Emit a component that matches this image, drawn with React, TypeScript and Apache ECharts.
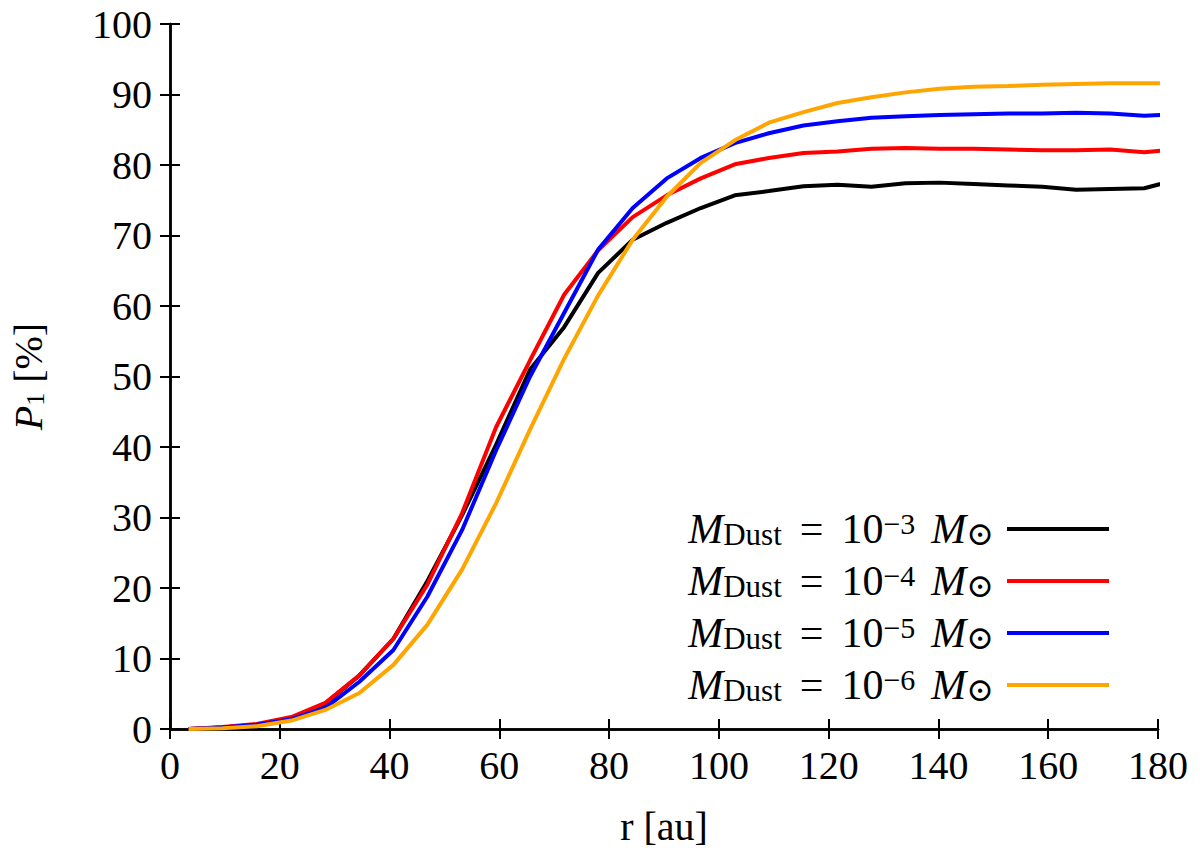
import { useEffect, useRef } from 'react';
import * as echarts from 'echarts';

// radius grid (au)
const radii = [
  3.4, 9.6, 15.8, 22.1, 28.3, 34.5, 40.7, 46.9, 53.2, 59.4,
  65.6, 71.8, 78.0, 84.3, 90.5, 96.7, 102.9, 109.1, 115.4, 121.6,
  127.8, 134.0, 140.2, 146.4, 152.7, 158.9, 165.1, 171.3, 177.5, 183.8,
];

// P1 [%] for each dust mass
const p1Dust3 = [
  0, 0.2, 0.6, 1.5, 3.6, 7.6, 12.8, 21.0, 30.3, 40.3,
  51.0, 57.0, 64.7, 69.4, 71.8, 73.9, 75.7, 76.3, 77.0, 77.2,
  76.9, 77.4, 77.5, 77.3, 77.1, 76.9, 76.5, 76.6, 76.7, 78.0,
];
const p1Dust4 = [
  0, 0.3, 0.7, 1.7, 3.7, 7.6, 12.8, 20.5, 30.6, 42.8,
  52.3, 61.6, 67.9, 72.6, 75.7, 78.1, 80.1, 81.0, 81.7, 81.9,
  82.3, 82.4, 82.3, 82.3, 82.2, 82.1, 82.1, 82.2, 81.8, 82.3,
];
const p1Dust5 = [
  0, 0.2, 0.6, 1.4, 3.0, 6.7, 11.2, 18.8, 28.2, 39.5,
  50.0, 59.0, 68.0, 73.9, 78.1, 81.0, 83.1, 84.5, 85.6, 86.2,
  86.7, 86.9, 87.1, 87.2, 87.3, 87.3, 87.4, 87.3, 87.0, 87.2,
];
const p1Dust6 = [
  0, 0.1, 0.4, 1.2, 2.7, 5.1, 9.1, 14.8, 22.6, 32.0,
  42.5, 52.5, 61.5, 69.4, 75.5, 80.3, 83.5, 86.0, 87.5, 88.8,
  89.6, 90.3, 90.8, 91.1, 91.2, 91.4, 91.5, 91.6, 91.6, 91.6,
];

const seriesNames = ['1e-3', '1e-4', '1e-5', '1e-6'];
const exponents = ['−3', '−4', '−5', '−6'];
const seriesColors = ['#000000', '#ff0000', '#0000ff', '#ffa500'];
const seriesValues = [p1Dust3, p1Dust4, p1Dust5, p1Dust6];

const FONT = '"Liberation Serif", "DejaVu Serif", serif';

export default function App() {
  const chartRef = useRef<HTMLDivElement>(null);

  useEffect(() => {
    if (!chartRef.current) return;
    const chart = echarts.init(chartRef.current, undefined, { renderer: 'svg' });

    const axisLine = { show: true, lineStyle: { color: '#000', width: 2.5 } };
    const axisTick = { show: true, inside: true, length: 10, lineStyle: { color: '#000', width: 2 } };
    const base = { fontFamily: FONT, color: '#000' };

    const option: echarts.EChartsOption = {
      animation: false,
      backgroundColor: '#fff',
      textStyle: { fontFamily: FONT },
      grid: { left: 167, right: 42, top: 24, bottom: 123 },
      legend: {
        orient: 'vertical',
        right: 86,
        top: 503,
        align: 'right',
        icon: 'rect',
        itemWidth: 102,
        itemHeight: 4,
        itemGap: 10,
        data: seriesNames,
        formatter: (name: string) => {
          const i = seriesNames.indexOf(name);
          return `{m|M}{sub|Dust}{eq|=}{t|10}{sup|${exponents[i]}}{m2|M}{sun|⊙}`;
        },
        textStyle: {
          ...base,
          fontSize: 42,
          rich: {
            m: { ...base, fontSize: 42, fontStyle: 'italic', verticalAlign: 'middle' },
            m2: { ...base, fontSize: 42, fontStyle: 'italic', verticalAlign: 'middle', padding: [0, 0, 0, 16] },
            eq: { ...base, fontSize: 42, verticalAlign: 'middle', padding: [0, 18, 0, 18] },
            t: { ...base, fontSize: 42, verticalAlign: 'middle' },
            sub: { ...base, fontSize: 31, verticalAlign: 'bottom', lineHeight: 16 },
            sun: { ...base, fontSize: 33, verticalAlign: 'bottom', lineHeight: 16, padding: [0, 8, 0, 0] },
            sup: { ...base, fontSize: 30, verticalAlign: 'top', lineHeight: 22 },
          },
        },
      },
      xAxis: [
        {
          type: 'value',
          min: 0,
          max: 180,
          interval: 20,
          position: 'bottom',
          name: 'r [au]',
          nameLocation: 'middle',
          nameGap: 77,
          nameTextStyle: { ...base, fontSize: 40 },
          axisLine,
          axisTick,
          axisLabel: { ...base, fontSize: 40, margin: 16 },
          splitLine: { show: false },
        },
        {
          type: 'value',
          min: 0,
          max: 180,
          interval: 20,
          position: 'top',
          axisLine,
          axisTick,
          axisLabel: { show: false },
          splitLine: { show: false },
        },
      ],
      yAxis: [
        {
          type: 'value',
          min: 0,
          max: 100,
          interval: 10,
          position: 'left',
          name: '{p|P}{s|1}{t| [%]}',
          nameLocation: 'middle',
          nameGap: 122,
          nameRotate: 90,
          nameTextStyle: {
            ...base,
            fontSize: 40,
            rich: {
              p: { ...base, fontSize: 40, fontStyle: 'italic', verticalAlign: 'middle' },
              s: { ...base, fontSize: 26, verticalAlign: 'bottom', lineHeight: 18 },
              t: { ...base, fontSize: 40, verticalAlign: 'middle' },
            },
          },
          axisLine,
          axisTick,
          axisLabel: { ...base, fontSize: 40, margin: 18 },
          splitLine: { show: false },
        },
        {
          type: 'value',
          min: 0,
          max: 100,
          interval: 10,
          position: 'right',
          axisLine,
          axisTick,
          axisLabel: { show: false },
          splitLine: { show: false },
        },
      ],
      series: seriesNames.map((name, i) => ({
        name,
        type: 'line' as const,
        data: radii.map((r, k) => [r, seriesValues[i][k]]),
        showSymbol: false,
        symbol: 'none',
        clip: true,
        lineStyle: { color: seriesColors[i], width: 4 },
        itemStyle: { color: seriesColors[i] },
        z: 2 + i,
      })),
    };

    chart.setOption(option);
    return () => chart.dispose();
  }, []);

  return (
    <div
      ref={chartRef}
      style={{ position: 'fixed', left: 0, top: 0, width: '1200px', height: '852px' }}
    />
  );
}
